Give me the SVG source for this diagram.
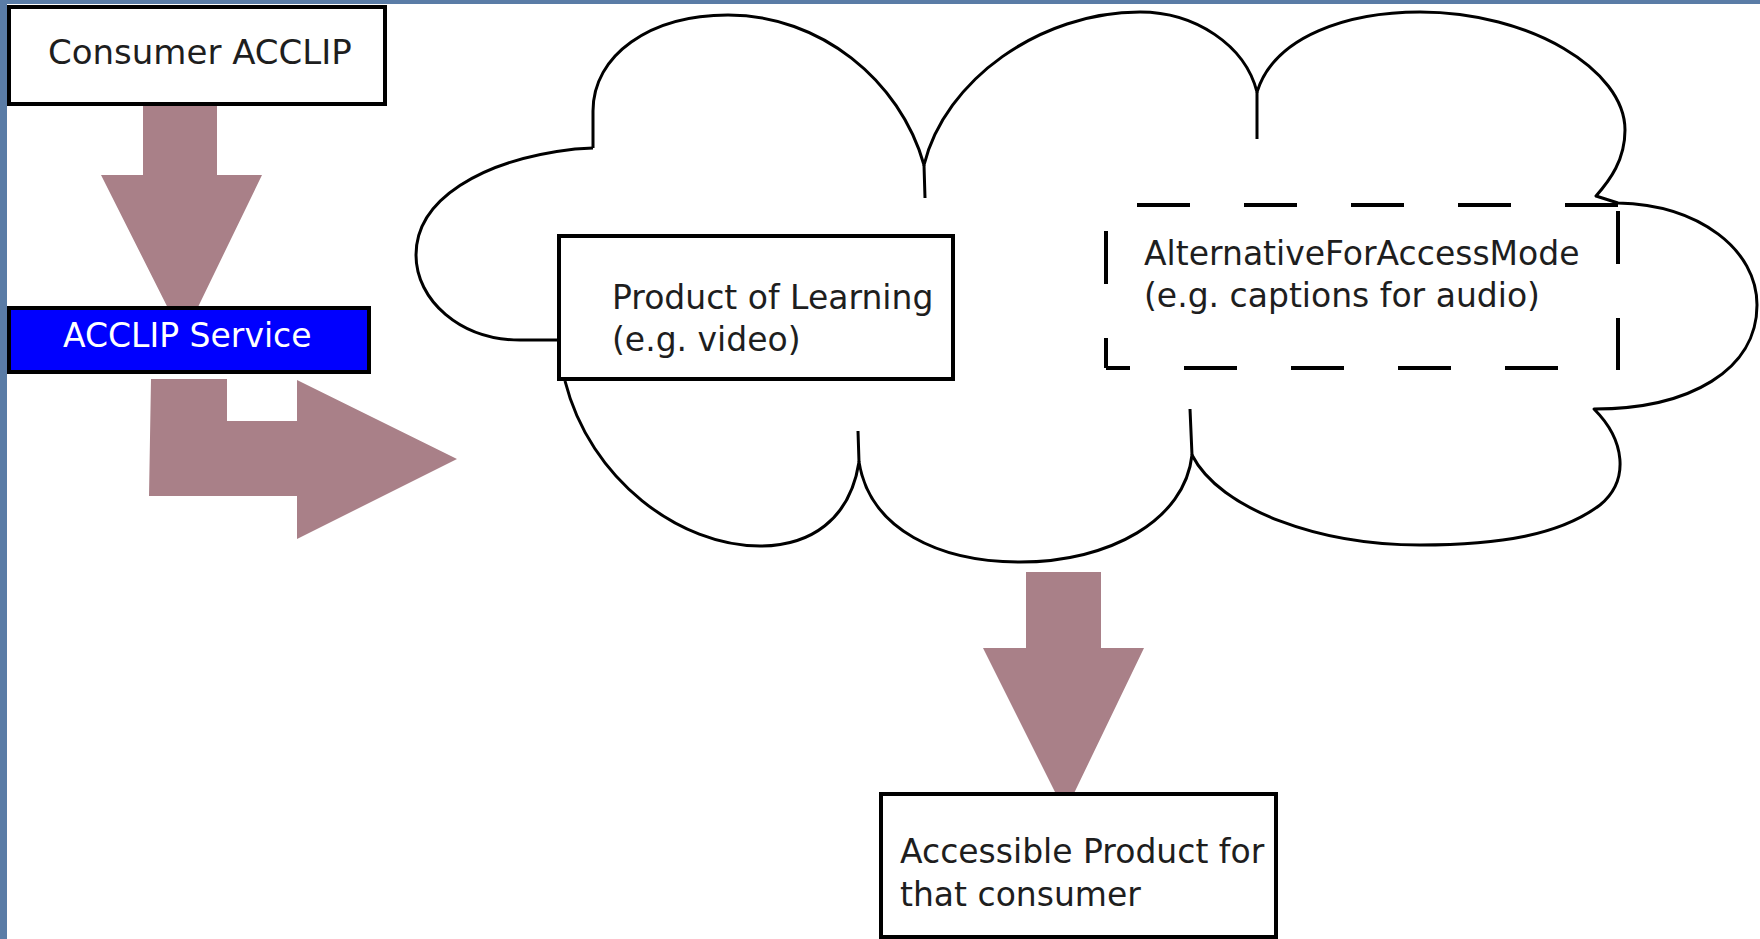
<svg xmlns="http://www.w3.org/2000/svg" width="1760" height="939" viewBox="0 0 1760 939">
<style>
.box{fill:#ffffff;stroke:#000000;stroke-width:4}
.cloud{fill:none;stroke:#000000;stroke-width:3;stroke-linejoin:round}
.dash{fill:none;stroke:#000000;stroke-width:4;stroke-dasharray:53 54}
.arrow{fill:#a98088;stroke:none}
.lbl{font-family:"DejaVu Sans","Liberation Sans",sans-serif;font-size:33px;fill:#1e1e1e}
</style>
<rect x="0" y="0" width="1760" height="939" fill="#5a7ca6"/>
<rect x="7" y="4" width="1753" height="935" fill="#ffffff"/>
<g id="connectors">
<polygon class="arrow" points="143,106 217,106 217,175 262,175 183,338 101,175 143,175"/>
<polygon class="arrow" points="151,379 227,379 227,421 297,421 297,380 457,459 297,539 297,496 149,496"/>
<polygon class="arrow" points="1026,572 1101,572 1101,648 1144,648 1065,812 983,648 1026,648"/>
</g>
<g id="cloud">
<path class="cloud" d="M593,148 L593,111 C593,55 650,15 728,15 C820,15 900,80 924,165 C945,80 1040,12 1140,12 C1195,12 1245,45 1257,92 C1275,35 1350,12 1420,12 C1530,12 1625,70 1625,130 C1625,160 1610,180 1596,196 L1618,203 C1700,205 1757,250 1757,305 C1757,370 1690,409 1594,409 C1625,440 1630,480 1600,505 C1560,535 1500,545 1420,545 C1320,545 1220,510 1192,455 C1185,520 1110,562 1020,562 C940,562 870,530 859,462 C850,520 810,546 760,546 C680,546 590,480 565,381"/>
<path class="cloud" d="M593,148 L575,149 C480,160 416,200 416,255 C416,300 460,340 520,340 L557,340"/>
<path class="cloud" d="M924,165 L925,198 M1257,92 L1257,139 M859,462 L858,431 M1192,455 L1190,409"/>
</g>
<g id="consumer-acclip">
<rect class="box" x="9" y="7" width="376" height="97"/>
<text class="lbl" x="48" y="64" style="font-size:34px">Consumer ACCLIP</text>
</g>
<g id="acclip-service">
<rect x="9" y="308" width="360" height="64" fill="#0000ff" stroke="#000000" stroke-width="4"/>
<text class="lbl" x="63" y="347" style="fill:#ffffff">ACCLIP Service</text>
</g>
<g id="product-of-learning">
<rect class="box" x="559" y="236" width="394" height="143"/>
<text class="lbl" x="612" y="309">Product of Learning</text>
<text class="lbl" x="612" y="351">(e.g. video)</text>
</g>
<g id="alternative">
<rect x="1106" y="205" width="512" height="163" fill="#ffffff"/>
<line class="dash" x1="1137" y1="205" x2="1618" y2="205"/>
<line class="dash" x1="1618" y1="211" x2="1618" y2="370"/>
<line class="dash" x1="1106" y1="368" x2="1560" y2="368" stroke-dashoffset="29"/>
<line class="dash" x1="1106" y1="368" x2="1106" y2="231" stroke-dashoffset="23"/>
<text class="lbl" x="1144" y="265">AlternativeForAccessMode</text>
<text class="lbl" x="1144" y="307">(e.g. captions for audio)</text>
</g>
<g id="accessible-product">
<rect class="box" x="881" y="794" width="395" height="143"/>
<text class="lbl" x="900" y="863">Accessible Product for</text>
<text class="lbl" x="900" y="906">that consumer</text>
</g>
</svg>
